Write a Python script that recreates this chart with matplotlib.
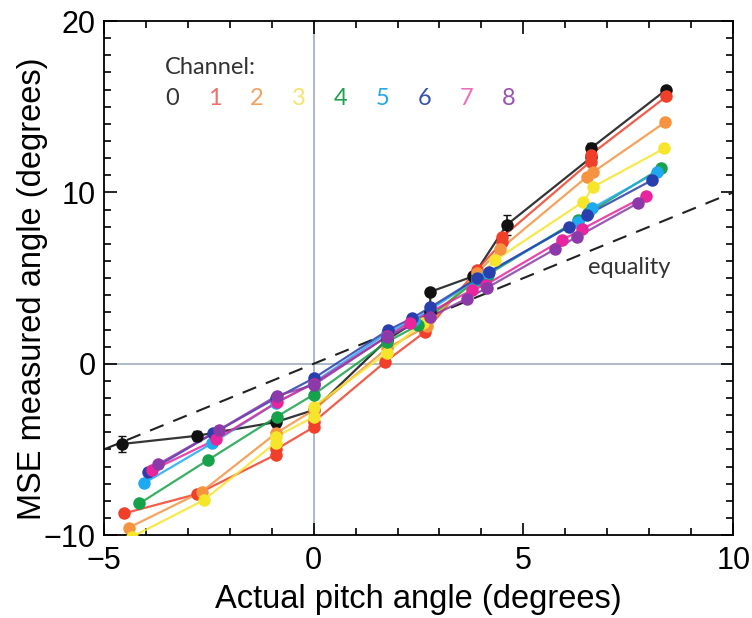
import matplotlib
matplotlib.use("Agg")
import matplotlib.pyplot as plt
from matplotlib.ticker import MultipleLocator

# ---- data ----
ch0_x = [-4.57, -2.78, -0.90, 0.0, 1.75, 2.78, 2.78, 3.80, 4.60, 6.62, 6.62, 8.41]
ch0_y = [-4.68, -4.20, -3.40, -2.7, 1.40, 3.00, 4.20, 5.10, 8.10, 12.05, 12.60, 16.0]
ch0_err = [0.45, 0.3, 0.3, 0.0, 0.0, 0.0, 0.0, 0.0, 0.6, 0.0, 0.3, 0.0]

ch1_x = [-4.52, -2.78, -0.90, -0.90, 0.0, 0.0, 1.70, 2.66, 3.90, 4.50, 4.50, 6.60, 6.60, 8.41]
ch1_y = [-8.73, -7.60, -5.30, -5.00, -3.7, -3.4, 0.10, 1.87, 5.50, 7.10, 7.40, 11.80, 12.20, 15.6]

ch2_x = [-4.41, -2.67, -0.90, 0.0, 1.75, 2.70, 3.90, 4.45, 6.51, 6.67, 8.38]
ch2_y = [-9.57, -7.47, -4.06, -2.7, 0.90, 2.20, 5.30, 6.70, 10.90, 11.20, 14.10]

ch3_x = [-4.33, -2.62, -0.90, -0.90, 0.0, 0.0, 1.74, 2.60, 3.90, 4.33, 6.43, 6.67, 8.36]
ch3_y = [-10.1, -7.96, -4.60, -4.26, -3.1, -2.5, 0.62, 2.40, 5.00, 6.05, 9.46, 10.33, 12.57]

ch4_x = [-4.15, -2.52, -0.88, 0.0, 1.75, 2.50, 3.90, 4.15, 6.30, 6.55, 8.27]
ch4_y = [-8.15, -5.62, -3.09, -1.8, 1.28, 2.26, 4.90, 5.20, 8.40, 8.80, 11.40]

ch5_x = [-4.05, -2.43, -0.90, 0.0, 1.75, 2.40, 3.90, 4.15, 6.30, 6.63, 8.19]
ch5_y = [-6.98, -4.65, -2.30, -1.1, 1.80, 2.55, 4.95, 5.30, 8.30, 9.07, 11.20]

ch6_x = [-3.95, -2.39, -0.90, 0.0, 1.78, 2.34, 2.78, 3.89, 4.17, 6.08, 6.51, 8.07]
ch6_y = [-6.30, -4.06, -2.00, -0.85, 1.97, 2.65, 3.29, 4.98, 5.35, 8.00, 8.68, 10.72]

ch7_x = [-3.84, -2.32, -0.88, 0.0, 1.75, 2.30, 3.77, 4.10, 5.92, 6.40, 7.91]
ch7_y = [-6.20, -4.41, -2.25, -1.15, 1.60, 2.40, 4.30, 4.60, 7.22, 7.86, 9.80]

ch8_x = [-3.71, -2.25, -0.88, 0.0, 1.74, 2.78, 3.65, 4.13, 5.76, 6.28, 7.72]
ch8_y = [-5.87, -3.85, -1.87, -1.24, 1.58, 2.74, 3.80, 4.43, 6.70, 7.41, 9.36]

channels = ["0", "1", "2", "3", "4", "5", "6", "7", "8"]
line_colors = ["#111111", "#f0402a", "#f59340", "#f7e52c", "#16a24a",
               "#1eaaf0", "#2a3fae", "#e8259c", "#8c3aaa"]
label_colors = ["#333333", "#f07070", "#f2a060", "#f3e46a", "#22a04e",
                "#22a8e8", "#3553b0", "#ee6cc0", "#9a50b4"]

xs = [ch0_x, ch1_x, ch2_x, ch3_x, ch4_x, ch5_x, ch6_x, ch7_x, ch8_x]
ys = [ch0_y, ch1_y, ch2_y, ch3_y, ch4_y, ch5_y, ch6_y, ch7_y, ch8_y]

plt.rcParams['font.family'] = ['Liberation Sans', 'DejaVu Sans']
fig = plt.figure(figsize=(7.52, 6.18), dpi=100)
ax = fig.add_axes([0.138, 0.134, 0.837, 0.832])

ax.axhline(0, color="#a4b4c2", lw=1.3, zorder=1)
ax.axvline(0, color="#a4b4c2", lw=1.3, zorder=1)
ax.plot([-5, 10], [-5, 10], color="#222222", lw=1.5, dashes=(7, 5), zorder=2)

ax.errorbar(ch0_x, ch0_y, yerr=ch0_err, fmt='none', ecolor="#111111",
            elinewidth=1.2, capsize=3, zorder=2.5)

# channel 0 drawn first, higher channels on top
for i in range(9):
    ax.plot(xs[i], ys[i], '-', color=line_colors[i], lw=1.6, alpha=0.85,
            zorder=3 + i * 0.1)
    ax.plot(xs[i], ys[i], 'o', color=line_colors[i], ms=9, mec='none',
            zorder=4 + i * 0.1)

ax.set_xlim(-5, 10)
ax.set_ylim(-10, 20)
ax.xaxis.set_major_locator(MultipleLocator(5))
ax.xaxis.set_minor_locator(MultipleLocator(1))
ax.yaxis.set_major_locator(MultipleLocator(10))
ax.yaxis.set_minor_locator(MultipleLocator(1))
ax.tick_params(which='both', direction='in', top=True, right=True,
               labelsize=22, width=1.2)
ax.tick_params(which='major', length=9)
ax.tick_params(which='minor', length=5)
ax.tick_params(axis='x', which='major', pad=8)
ax.tick_params(axis='y', which='major', pad=6)
for s in ax.spines.values():
    s.set_linewidth(1.3)

ax.set_xlabel("Actual pitch angle (degrees)", fontsize=23.5)
ax.set_ylabel("MSE measured angle (degrees)", fontsize=23.5)
ax.xaxis.set_label_coords(0.5, -0.095)
ax.yaxis.set_label_coords(-0.088, 0.48)

tfont = ['Lato', 'DejaVu Sans']
ax.text(-3.55, 17.3, "Channel:", fontsize=17, color="#333333",
        family=tfont, va='center', ha='left')
for i, c in enumerate(channels):
    ax.text(-3.36 + i * 1.0, 15.5, c, fontsize=17, color=label_colors[i],
            family=tfont, va='center', ha='center')
ax.text(6.55, 5.6, "equality", fontsize=17, color="#333333",
        family=tfont, va='center', ha='left')

fig.savefig("out.png", dpi=100)
